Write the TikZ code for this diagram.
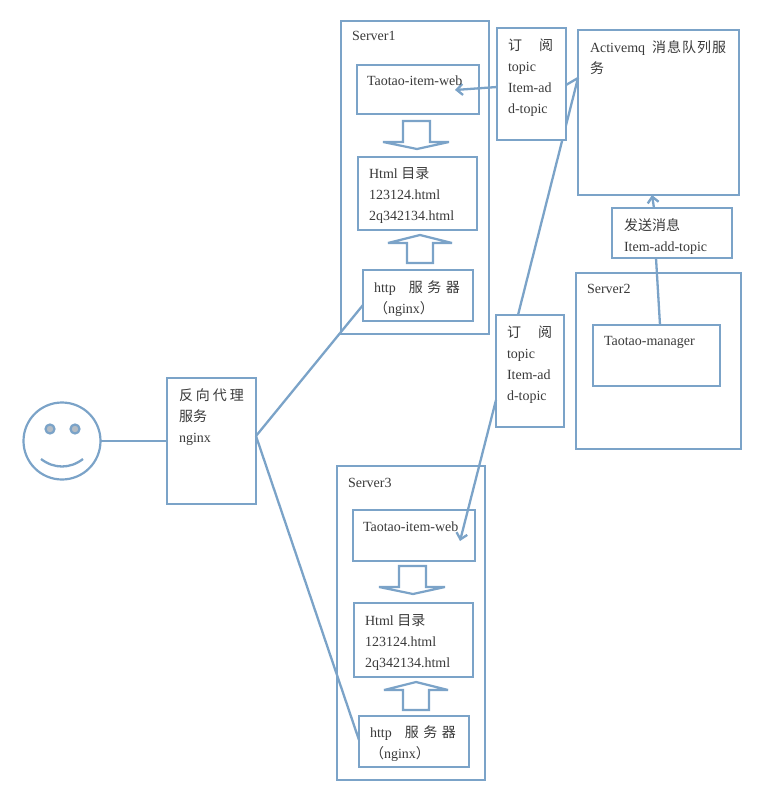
\documentclass[tikz,border=0pt]{standalone}
\usepackage{fontspec}
\setmainfont{Liberation Serif}
\newfontfamily\cjk{Noto Sans CJK SC}[Scale=1.0]
\definecolor{bl}{HTML}{7BA3C8}
\definecolor{eye}{HTML}{B4BCC4}
\definecolor{ink}{HTML}{3A3A3A}
\newcommand{\boxat}[5]{\node[boxy,minimum width=#4-#2,minimum height=#5-#3] (#1) at ({(#2+#4)/2},{(#3+#5)/2}) {};}
\newcommand{\txt}[4]{\node[tx] (#1) at (#2,#3+3.5) {#4};}
\newcommand{\downblock}[2]{\draw[blockar] (#1-14,#2) -- (#1+13,#2) -- (#1+13,#2+21) -- (#1+32,#2+21) -- (#1,#2+28) -- (#1-34,#2+21) -- (#1-14,#2+21) -- cycle;}
\newcommand{\upblock}[2]{\draw[blockar] (#1-13,#2+28) -- (#1+13,#2+28) -- (#1+13,#2+8) -- (#1+32,#2+8) -- (#1,#2) -- (#1-32,#2+8) -- (#1-13,#2+8) -- cycle;}
\tikzset{
 boxy/.style={draw=bl,line width=2.2pt,fill=white,inner sep=0pt,outer sep=0pt},
 tx/.style={anchor=north west,inner sep=0pt,outer sep=0pt,align=left,text=ink,font=\fontsize{14}{21}\selectfont},
 con/.style={draw=bl,line width=2.3pt},
 arrow/.style={con,-{Straight Barb[length=6pt,width=11pt]}},
 blockar/.style={draw=bl,line width=2.2pt,fill=white,line join=miter,miter limit=3}
}
\usetikzlibrary{arrows.meta,calc}
\begin{document}
\begin{tikzpicture}[x=1pt,y=-1pt]
\useasboundingbox (0,0) rectangle (777,798);
% containers
\boxat{serverA}{341}{21}{489}{334}
\boxat{serverB}{576}{273}{741}{449}
\boxat{serverC}{337}{466}{485}{780}
% face
\node[draw=bl,line width=2.2pt,circle,minimum size=77pt,inner sep=0pt,outer sep=0pt] (face) at (62,441) {};
\node[draw=bl,line width=2.2pt,fill=eye,circle,minimum size=9pt,inner sep=0pt] (eyeL) at (50,429) {};
\node[draw=bl,line width=2.2pt,fill=eye,circle,minimum size=9pt,inner sep=0pt] (eyeR) at (75,429) {};
\coordinate (mouthL) at (41,459);
\coordinate (mouthR) at (83,459);
\draw[con] (mouthL) .. controls (54,469) and (70,469) .. (mouthR);
% inner boxes
\boxat{proxy}{167}{378}{256}{504}
\boxat{webA}{357}{65}{479}{114}
\boxat{htmlA}{358}{157}{477}{230}
\boxat{httpA}{363}{270}{473}{321}
\boxat{webC}{353}{510}{475}{561}
\boxat{htmlC}{354}{603}{473}{677}
\boxat{httpC}{359}{716}{469}{767}
\boxat{manager}{593}{325}{720}{386}
\boxat{queue}{578}{30}{739}{195}
% connectors under the message boxes
\draw[con] (face.east) -- (proxy.west);
\draw[con] ([yshift=5pt]proxy.east) -- ([yshift=-9.5pt]httpA.west);
\draw[con] ([yshift=5pt]proxy.east) -- ([yshift=1.5pt]httpC.west);
\coordinate (queueIn) at (578,78);
\coordinate (subAin) at (566,85);
\coordinate (subCtop) at (518,315);
\draw[con] (queueIn) -- (subCtop);
\draw[con] (queueIn) -- (subAin);
\coordinate (webAend) at (455,90);
\coordinate (subAout) at (497,87);
\coordinate (webCend) at (460,541);
\coordinate (subCout) at (496,400);
\coordinate (queueBot) at (652,195);
\coordinate (sendTop) at (654,208);
\coordinate (sendBot) at (656,258);
\coordinate (mgrTop) at (660,325);
\draw[con] (mgrTop) -- (sendBot);
\draw[arrow] (sendTop) -- (queueBot);
% message boxes
\boxat{subA}{497}{28}{566}{140}
\boxat{subC}{496}{315}{564}{427}
\boxat{send}{612}{208}{732}{258}
\draw[arrow] (subAout) -- (webAend);
\draw[arrow] (subCout) -- (webCend);
% block arrows
\downblock{417}{121}
\upblock{420}{235}
\downblock{413}{566}
\upblock{416}{682}
% texts
\txt{t1}{352}{28}{Server1}
\txt{t2}{367}{72}{Taotao-item-web}
\txt{t3}{369}{164}{Html {\cjk 目录}\\123124.html\\2q342134.html}
\txt{t4}{374}{277}{http\hspace{13pt}{\cjk 服\hspace{4.5pt}务\hspace{4.5pt}器}\\{\cjk （}nginx{\cjk ）}}
\txt{t5}{508}{35}{{\cjk 订\hspace{17pt}阅}\\topic\\Item-ad\\d-topic}
\txt{t6}{590}{37}{Activemq\hspace{7pt}{\cjk 消\hspace{1pt}息\hspace{1pt}队\hspace{1pt}列\hspace{1pt}服}\\{\cjk 务}}
\txt{t7}{624}{215}{{\cjk 发送消息}\\Item-add-topic}
\txt{t8}{587}{281}{Server2}
\txt{t9}{604}{333}{Taotao-manager}
\txt{t10}{507}{322}{{\cjk 订\hspace{17pt}阅}\\topic\\Item-ad\\d-topic}
\txt{t11}{179}{385}{{\cjk 反\hspace{3pt}向\hspace{3pt}代\hspace{3pt}理}\\{\cjk 服务}\\nginx}
\txt{t12}{348}{475}{Server3}
\txt{t13}{363}{518}{Taotao-item-web}
\txt{t14}{365}{611}{Html {\cjk 目录}\\123124.html\\2q342134.html}
\txt{t15}{370}{722}{http\hspace{13pt}{\cjk 服\hspace{4.5pt}务\hspace{4.5pt}器}\\{\cjk （}nginx{\cjk ）}}
\end{tikzpicture}
\end{document}
